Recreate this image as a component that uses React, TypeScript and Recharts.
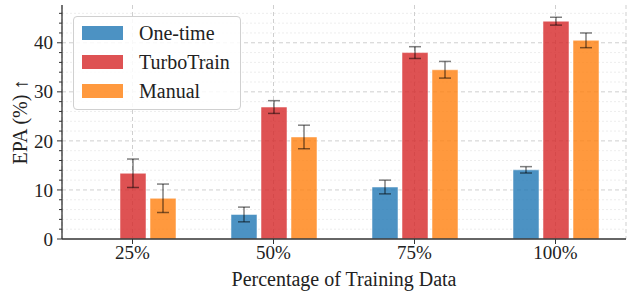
import React from 'react'
import {
  BarChart, Bar, XAxis, YAxis, CartesianGrid, ErrorBar,
} from 'recharts'

const categories = ['25%', '50%', '75%', '100%']
const oneTime = [0, 5.0, 10.6, 14.1]
const oneTimeErr = [0, 1.5, 1.4, 0.65]
const turboTrain = [13.4, 26.9, 38.0, 44.4]
const turboTrainErr = [2.9, 1.3, 1.2, 0.8]
const manual = [8.3, 20.8, 34.5, 40.5]
const manualErr = [2.9, 2.4, 1.7, 1.5]

const majorTicks = [0, 10, 20, 30, 40]
const minorTicks = [2, 4, 6, 8, 12, 14, 16, 18, 22, 24, 26, 28, 32, 34, 36, 38, 42, 44, 46]
const allTicks = [...majorTicks, ...minorTicks].sort((a, b) => a - b)

const series = [
  { key: 'oneTime', err: 'oneTimeErr', name: 'One-time', color: '#1f77b4' },
  { key: 'turbo', err: 'turboErr', name: 'TurboTrain', color: '#d62728' },
  { key: 'manual', err: 'manualErr', name: 'Manual', color: '#ff7f0e' },
]

const data = categories.map((c, i) => ({
  name: c,
  oneTime: oneTime[i], oneTimeErr: oneTimeErr[i],
  turbo: turboTrain[i], turboErr: turboTrainErr[i],
  manual: manual[i], manualErr: manualErr[i],
}))

const FONT = '"Liberation Serif", "Times New Roman", serif'
const AXIS = '#333'

function YTick(props: any) {
  const { x, y, payload } = props
  const major = majorTicks.includes(payload.value)
  // x is where the label sits; the axis line is at x + tickSize + tickMargin
  const ax = x + 9
  return (
    <g>
      <line x1={ax - (major ? 5 : 3)} x2={ax} y1={y} y2={y} stroke={AXIS} strokeWidth={1} />
      {major && (
        <text x={ax - 9} y={y} dy="0.35em" textAnchor="end" fill="#222" fontSize={19} fontFamily={FONT}>
          {payload.value}
        </text>
      )}
    </g>
  )
}

function LegendBox() {
  return (
    <div style={{
      position: 'absolute', left: 73, top: 16, width: 168, height: 94, boxSizing: 'border-box',
      border: '1px solid #d0d0d0', borderRadius: 4, background: 'rgba(255,255,255,0.85)',
      padding: '1px 0 0 8px', fontFamily: FONT, fontSize: 20, color: '#222',
    }}>
      {series.map(s => (
        <div key={s.key} style={{ display: 'flex', alignItems: 'center', height: 29 }}>
          <div style={{ width: 41, height: 14, background: s.color, opacity: 0.8 }} />
          <span style={{ marginLeft: 16, lineHeight: '20px' }}>{s.name}</span>
        </div>
      ))}
    </div>
  )
}

export default function App() {
  return (
    <div style={{ position: 'absolute', left: 0, top: 0, width: 629, height: 292, background: '#fff' }}>
      <BarChart
        width={629} height={292} data={data}
        margin={{ top: 5, right: 3, bottom: 0, left: 0 }}
        barSize={26} barGap={4}
      >
        <CartesianGrid
          horizontalValues={minorTicks} vertical={false}
          stroke="#e8e8e8" strokeDasharray="2 2" strokeWidth={0.8}
        />
        <CartesianGrid
          horizontalValues={majorTicks.filter(v => v > 0)}
          stroke="#cfcfcf" strokeDasharray="4 3" strokeWidth={1}
        />
        <XAxis
          dataKey="name" height={53}
          axisLine={{ stroke: AXIS, strokeWidth: 1.3 }}
          tickLine={{ stroke: AXIS }} tickSize={5} tickMargin={2}
          tick={{ fill: '#222', fontSize: 19, fontFamily: FONT }}
          label={{ value: 'Percentage of Training Data', position: 'insideBottom', offset: 6, fill: '#222', fontSize: 20, fontFamily: FONT }}
        />
        <YAxis
          width={62} domain={[0, 47.7]} ticks={allTicks} interval={0}
          axisLine={{ stroke: AXIS, strokeWidth: 1.3 }}
          tickLine={false} tickSize={5} tickMargin={4}
          tick={<YTick />}
          label={{ value: 'EPA (%) ↑', angle: -90, position: 'center', dx: -11, fill: '#222', fontSize: 20, fontFamily: FONT }}
        />
        {series.map(s => (
          <Bar key={s.key} dataKey={s.key} name={s.name} fill={s.color} fillOpacity={0.8}
            stroke="#fff" strokeOpacity={0.5} strokeWidth={1} isAnimationActive={false}>
            <ErrorBar dataKey={s.err} width={6} stroke="#000" strokeOpacity={0.5} strokeWidth={1.5} direction="y" />
          </Bar>
        ))}
      </BarChart>
      <LegendBox />
    </div>
  )
}
